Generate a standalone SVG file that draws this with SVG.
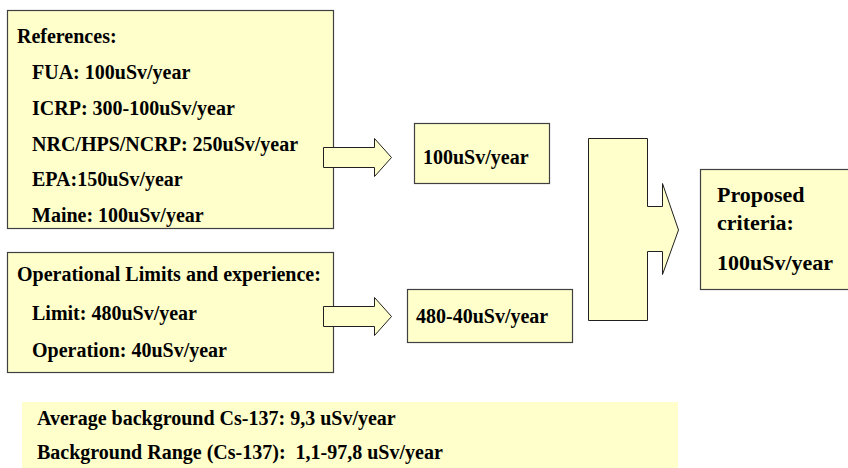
<svg xmlns="http://www.w3.org/2000/svg" width="848" height="468" viewBox="0 0 848 468">
<style>
.box{fill:#FFFFCC;stroke:#404040;stroke-width:1.2}
.arr{fill:#FFFFCC;stroke:#202020;stroke-width:1}
text{font-family:"Liberation Serif","Times New Roman",serif;font-weight:bold;font-size:20px;fill:#000}
.big{font-size:22px}
</style>
<rect width="848" height="468" fill="#fff"/>
<g id="references">
<rect class="box" x="7.5" y="10.5" width="326" height="218"/>
<text x="17" y="43">References:</text>
<text x="32" y="79">FUA: 100uSv/year</text>
<text x="32" y="115">ICRP: 300-100uSv/year</text>
<text x="32" y="151">NRC/HPS/NCRP: 250uSv/year</text>
<text x="32" y="186">EPA:150uSv/year</text>
<text x="32" y="222">Maine: 100uSv/year</text>
</g>
<g id="operational">
<rect class="box" x="7.5" y="252.5" width="326" height="120"/>
<text x="17" y="281">Operational Limits and experience:</text>
<text x="32" y="320">Limit: 480uSv/year</text>
<text x="32" y="357">Operation: 40uSv/year</text>
</g>
<g id="result1">
<rect class="box" x="414.5" y="123.5" width="135" height="60"/>
<text x="423" y="164">100uSv/year</text>
</g>
<g id="result2">
<rect class="box" x="407.5" y="289.5" width="165" height="53"/>
<text x="416" y="323">480-40uSv/year</text>
</g>
<g id="proposed">
<rect class="box" x="700.5" y="169.5" width="160" height="120"/>
<text class="big" x="717" y="202">Proposed</text>
<text class="big" x="717" y="230">criteria:</text>
<text class="big" x="717" y="270">100uSv/year</text>
</g>
<g id="background">
<rect x="22" y="402" width="656" height="70" fill="#FFFFCC"/>
<text x="37" y="425">Average background Cs-137: 9,3 uSv/year</text>
<text x="37" y="459" xml:space="preserve">Background Range (Cs-137):  1,1-97,8 uSv/year</text>
</g>
<g id="connectors">
<polygon class="arr" points="323.5,147.5 374.5,147.5 374.5,138.5 391.5,157.5 374.5,176.5 374.5,167.5 323.5,167.5"/>
<polygon class="arr" points="323.5,306.5 374.5,306.5 374.5,297.5 391.5,316.5 374.5,335.5 374.5,326.5 323.5,326.5"/>
<polygon class="arr" points="588.5,138.5 647.5,138.5 647.5,206.5 662.5,206.5 662.5,183.5 678.5,230 662.5,274.5 662.5,251.5 647.5,251.5 647.5,320.5 588.5,320.5"/>
</g>
</svg>
